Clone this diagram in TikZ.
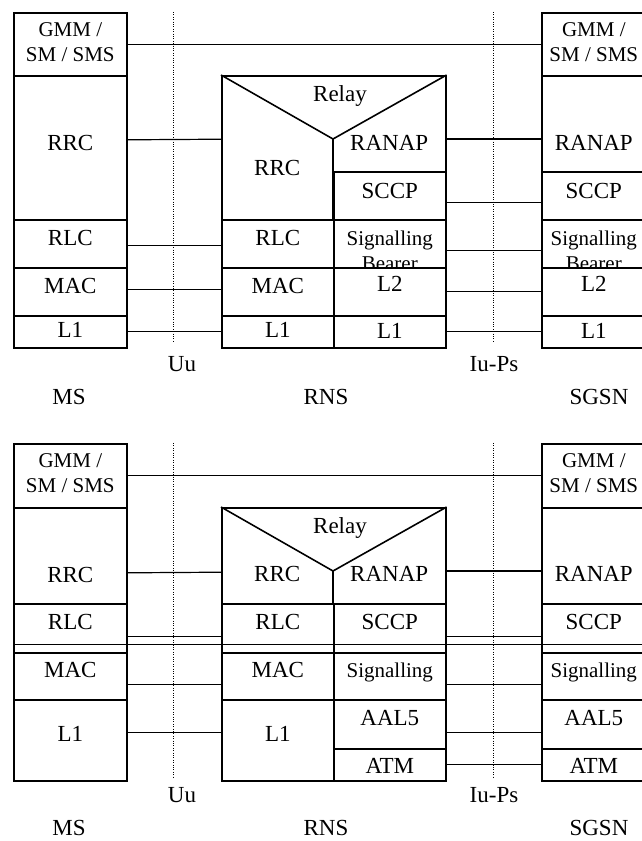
\documentclass[tikz,border=0pt]{standalone}
\usepackage{fontspec}
\setmainfont{Liberation Serif}
\newcommand{\mainsize}{\fontsize{23}{27}\selectfont}
\newcommand{\smallsize}{\fontsize{21}{25}\selectfont}
\tikzset{x=1pt, y=-1pt,
    layer/.style={draw, line width=1.6pt, fill=white, anchor=north west, inner sep=0pt},
    open/.style={anchor=north west, inner sep=0pt},
    frame/.style={draw, line width=1.6pt, anchor=north west, inner sep=0pt},
    link/.style={line width=1.2pt},
    iface/.style={line width=0.9pt, dash pattern=on 0.9pt off 1.5pt},
    sep/.style={line width=0.9pt},
    small/.style={font=\smallsize, align=center},
    entity/.style={font=\mainsize},
    every label/.style={font=\mainsize, align=center}}

\begin{document}
\begin{tikzpicture}
    \useasboundingbox (0,0) rectangle (642,841);
    % upper stack
    \node[layer, minimum width=113, minimum height=63, label={[small, yshift=2]center:GMM /\\SM / SMS}] (msgmm) at (13,12) {};
    \node[layer, minimum width=113, minimum height=144, label={[yshift=5]center:RRC}] (msrrc) at (13,75) {};
    \node[layer, minimum width=113, minimum height=48, label={[yshift=6]center:RLC}] (msrlc) at (13,219) {};
    \node[layer, minimum width=113, minimum height=48, label={[yshift=6]center:MAC}] (msmac) at (13,267) {};
    \node[layer, minimum width=113, minimum height=32, label={[yshift=2]center:L1}] (msl1) at (13,315) {};

    \node[frame, minimum width=224, minimum height=272] (rns) at (221,75) {};
    \coordinate (apex) at (333,139);
    \draw[line width=1.6pt] (rns.north west) -- (apex) -- (rns.north east);
    \draw[line width=1.6pt] (apex) -- (apex |- rns.south);
    \node[entity, anchor=base] (relay) at (340,101) {Relay};
    \node[open, minimum width=112, minimum height=144, label={[yshift=-21]center:RRC}] (rnsrrc) at (221,75) {};
    \node[open, minimum width=112, minimum height=32, label={[yshift=12.5]center:RANAP}] (rnsranap) at (333,139) {};
    \node[layer, minimum width=112, minimum height=48, label={[yshift=6]center:RLC}] (rnsrlc) at (221,219) {};
    \node[layer, minimum width=112, minimum height=48, label={[yshift=6]center:MAC}] (rnsmac) at (221,267) {};
    \node[layer, minimum width=112, minimum height=32, label={[yshift=2]center:L1}] (rnsl1) at (221,315) {};
    \node[layer, minimum width=112, minimum height=48, label={[yshift=4.5]center:SCCP}] (rnssccp) at (333,171) {};
    \node[layer, minimum width=112, minimum height=48, label={[small, yshift=-7.4]center:Signalling\\Bearer}] (rnssb) at (333,219) {};
    \node[layer, minimum width=112, minimum height=48, label={[yshift=8]center:L2}] (rnsl2) at (333,267) {};
    \node[layer, minimum width=112, minimum height=32, label={[yshift=1]center:L1}] (rnsl1b) at (333,315) {};

    \node[layer, minimum width=104, minimum height=63, label={[small, yshift=2]center:GMM /\\SM / SMS}] (sgsngmm) at (541,12) {};
    \node[layer, minimum width=104, minimum height=96, label={[yshift=-19.5]center:RANAP}] (sgsnranap) at (541,75) {};
    \node[layer, minimum width=104, minimum height=48, label={[yshift=4.5]center:SCCP}] (sgsnsccp) at (541,171) {};
    \node[layer, minimum width=104, minimum height=48, label={[small, yshift=-7.4]center:Signalling\\Bearer}] (sgsnsb) at (541,219) {};
    \node[layer, minimum width=104, minimum height=48, label={[yshift=8]center:L2}] (sgsnl2) at (541,267) {};
    \node[layer, minimum width=104, minimum height=32, label={[yshift=1]center:L1}] (sgsnl1) at (541,315) {};

    \draw[link] (msgmm.east) -- (sgsngmm.west);
    \draw[link] ([yshift=8]msrrc.east) -- ([yshift=8]rnsrrc.west);
    \draw[link] ([yshift=-2]msrlc.east) -- ([yshift=-2]rnsrlc.west);
    \draw[link] ([yshift=2]msmac.east) -- ([yshift=2]rnsmac.west);
    \draw[link] (msl1.east) -- (rnsl1.west);
    \draw[link] (rnsranap.north east) -- (rnsranap.north east -| sgsnranap.west);
    \draw[link] ([yshift=-7]rnssccp.east) -- ([yshift=-7]sgsnsccp.west);
    \draw[link] ([yshift=-7]rnssb.east) -- ([yshift=-7]sgsnsb.west);
    \draw[link] (rnsl2.east) -- (sgsnl2.west);
    \draw[link] (rnsl1b.east) -- (sgsnl1.west);

    \draw[iface] (173,12) -- (173,343);
    \draw[iface] (493,12) -- (493,343);
    \node[entity] (uu) at (182,364) {Uu};
    \node[entity] (iups) at (494,364) {Iu-Ps};
    \node[entity] (ms) at (69,397) {MS};
    \node[entity] (rnsname) at (326,397) {RNS};
    \node[entity] (sgsn) at (599,397) {SGSN};

    % lower stack
    \node[layer, minimum width=113, minimum height=64, label={[small, yshift=2.5]center:GMM /\\SM / SMS}] (msgmm2) at (13,443) {};
    \node[layer, minimum width=113, minimum height=96, label={[yshift=-19.5]center:RRC}] (msrrc2) at (13,507) {};
    \node[layer, minimum width=113, minimum height=49, label={[yshift=6.5]center:RLC}] (msrlc2) at (13,603) {};
    \node[layer, minimum width=113, minimum height=47, label={[yshift=6]center:MAC}] (msmac2) at (13,652) {};
    \node[layer, minimum width=113, minimum height=81, label={[yshift=6]center:L1}] (msl12) at (13,699) {};

    \node[frame, minimum width=224, minimum height=273] (rns2) at (221,507) {};
    \coordinate (apex2) at (333,571);
    \draw[line width=1.6pt] (rns2.north west) -- (apex2) -- (rns2.north east);
    \draw[line width=1.6pt] (apex2) -- (apex2 |- rns2.south);
    \node[entity, anchor=base] (relay2) at (340,533) {Relay};
    \node[open, minimum width=112, minimum height=96, label={[yshift=-18.5]center:RRC}] (rnsrrc2) at (221,507) {};
    \node[open, minimum width=112, minimum height=32, label={[yshift=13.5]center:RANAP}] (rnsranap2) at (333,571) {};
    \node[layer, minimum width=112, minimum height=49, label={[yshift=6.5]center:RLC}] (rnsrlc2) at (221,603) {};
    \node[layer, minimum width=112, minimum height=47, label={[yshift=6]center:MAC}] (rnsmac2) at (221,652) {};
    \node[layer, minimum width=112, minimum height=81, label={[yshift=6]center:L1}] (rnsl12) at (221,699) {};
    \node[layer, minimum width=112, minimum height=49, label={[yshift=6.5]center:SCCP}] (rnssccp2) at (333,603) {};
    \node[layer, minimum width=112, minimum height=47, label={[small, yshift=3.7]center:Signalling}] (rnssig2) at (333,652) {};
    \node[layer, minimum width=112, minimum height=49, label={[yshift=6]center:AAL5}] (rnsaal52) at (333,699) {};
    \node[layer, minimum width=112, minimum height=32, label={[yshift=-1]center:ATM}] (rnsatm2) at (333,748) {};

    \node[layer, minimum width=104, minimum height=64, label={[small, yshift=2.5]center:GMM /\\SM / SMS}] (sgsngmm2) at (541,443) {};
    \node[layer, minimum width=104, minimum height=96, label={[yshift=-18.5]center:RANAP}] (sgsnranap2) at (541,507) {};
    \node[layer, minimum width=104, minimum height=49, label={[yshift=6.5]center:SCCP}] (sgsnsccp2) at (541,603) {};
    \node[layer, minimum width=104, minimum height=47, label={[small, yshift=3.7]center:Signalling}] (sgsnsig2) at (541,652) {};
    \node[layer, minimum width=104, minimum height=49, label={[yshift=6]center:AAL5}] (sgsnaal52) at (541,699) {};
    \node[layer, minimum width=104, minimum height=32, label={[yshift=-1]center:ATM}] (sgsnatm2) at (541,748) {};

    \draw[sep] ([yshift=9]msrlc2.south west) -- ([yshift=9]sgsnsccp2.south east);
    \draw[link] (msgmm2.east) -- (sgsngmm2.west);
    \draw[link] ([yshift=-17]msrrc2.east) -- ([yshift=-17]rnsrrc2.west);
    \draw[link] ([yshift=-8.5]msrlc2.east) -- ([yshift=-8.5]rnsrlc2.west);
    \draw[link] ([yshift=-8.5]msmac2.east) -- ([yshift=-8.5]rnsmac2.west);
    \draw[link] ([yshift=7.5]msl12.east) -- ([yshift=7.5]rnsl12.west);
    \draw[link] (rnsranap2.north east) -- (rnsranap2.north east -| sgsnranap2.west);
    \draw[link] ([yshift=-8.5]rnssccp2.east) -- ([yshift=-8.5]sgsnsccp2.west);
    \draw[link] ([yshift=-8.5]rnssig2.east) -- ([yshift=-8.5]sgsnsig2.west);
    \draw[link] ([yshift=-8.5]rnsaal52.east) -- ([yshift=-8.5]sgsnaal52.west);
    \draw[link] (rnsatm2.east) -- (sgsnatm2.west);

    \draw[iface] (173,443) -- (173,778);
    \draw[iface] (493,443) -- (493,778);
    \node[entity] (uu2) at (182,795) {Uu};
    \node[entity] (iups2) at (494,795) {Iu-Ps};
    \node[entity] (ms2) at (69,828) {MS};
    \node[entity] (rnsname2) at (326,828) {RNS};
    \node[entity] (sgsn2) at (599,828) {SGSN};
\end{tikzpicture}
\end{document}
